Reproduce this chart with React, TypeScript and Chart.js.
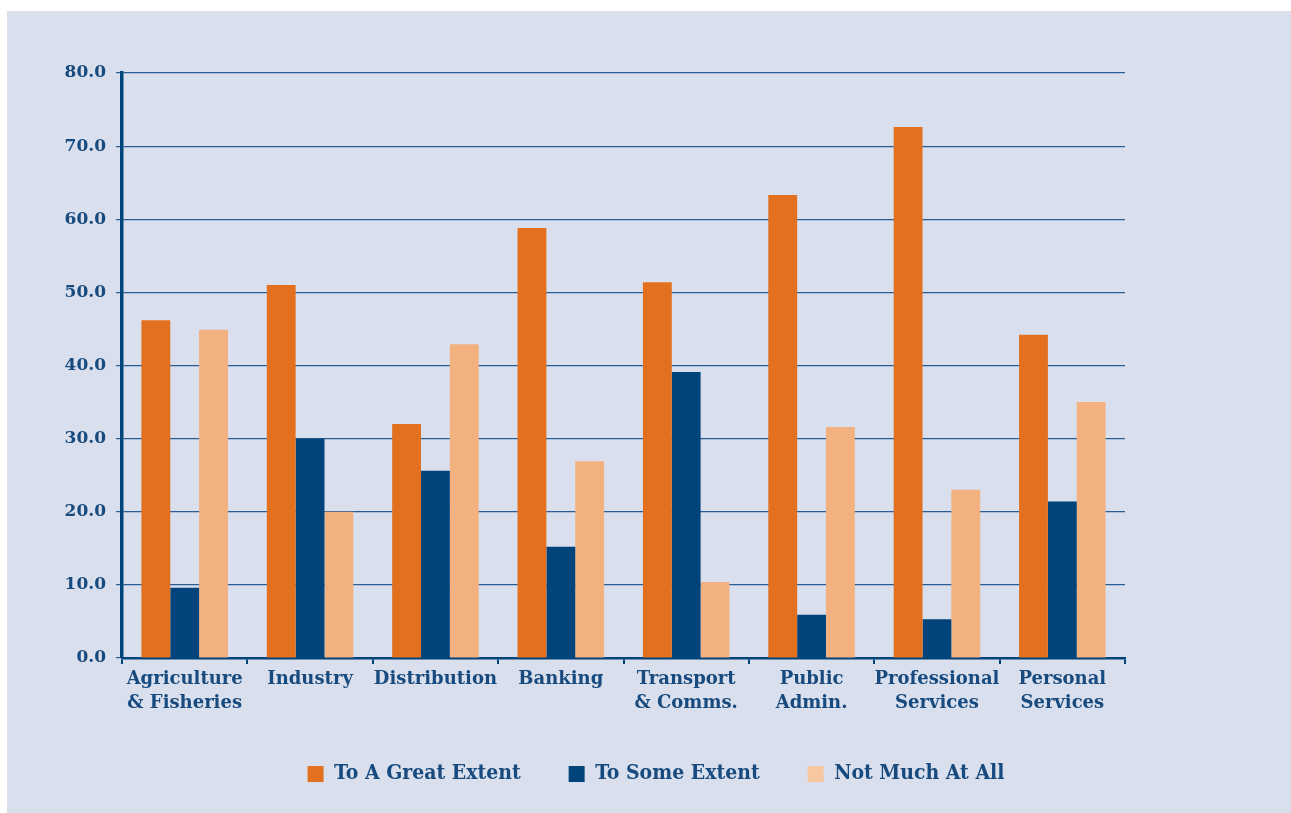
import React, { useEffect, useRef } from "react";
import { Chart, registerables } from "chart.js";

Chart.register(...registerables);

const categories: string[][] = [
  ["Agriculture", "& Fisheries"],
  ["Industry"],
  ["Distribution"],
  ["Banking"],
  ["Transport", "& Comms."],
  ["Public", "Admin."],
  ["Professional", "Services"],
  ["Personal", "Services"],
];
const seriesNames = ["To A Great Extent", "To Some Extent", "Not Much At All"];
const greatExtent = [46.2, 51.0, 32.0, 58.8, 51.4, 63.3, 72.6, 44.2];
const someExtent = [9.6, 30.0, 25.6, 15.2, 39.1, 5.9, 5.3, 21.4];
const notMuch = [44.9, 20.0, 42.9, 26.9, 10.4, 31.6, 23.0, 35.0];
const yMin = 0;
const yMax = 80;
const yStep = 10;

const ORANGE = "#e3701e";
const NAVY = "#00447b";
const PEACH = "#f2b17f";
const PEACH_LEGEND = "#f7c8a0";
const TEXT = "#174a7e";
const GRID = "#2a5d93";

export default function App() {
  const ref = useRef<HTMLCanvasElement | null>(null);
  useEffect(() => {
    if (!ref.current) return;
    const labelFont = { family: "'DejaVu Serif', serif", weight: "bold" as const, size: 18, lineHeight: 1.3 };
    const chart = new Chart(ref.current, {
      type: "bar",
      data: {
        labels: categories,
        datasets: [
          { label: seriesNames[0], data: greatExtent, backgroundColor: ORANGE, yAxisID: "y" },
          { label: seriesNames[1], data: someExtent, backgroundColor: NAVY, yAxisID: "y" },
          { label: seriesNames[2], data: notMuch, backgroundColor: PEACH, yAxisID: "y" },
        ],
      },
      options: {
        responsive: false,
        animation: false,
        layout: { padding: { top: 62, left: 14, right: 0, bottom: 18.5 } },
        datasets: { bar: { categoryPercentage: 0.69, barPercentage: 1.0 } },
        scales: {
          x: {
            grid: {
              display: true,
              drawOnChartArea: false,
              drawTicks: true,
              tickLength: 6,
              color: NAVY,
              lineWidth: 2,
              offset: true,
            },
            border: { display: true, color: NAVY, width: 2.5 },
            ticks: {
              color: TEXT,
              font: labelFont,
              padding: 4,
              maxRotation: 0,
              autoSkip: false,
            },
            afterFit: (s: any) => {
              s.height = 57.5;
            },
          },
          y: {
            position: "left",
            min: yMin,
            max: yMax,
            ticks: {
              stepSize: yStep,
              color: TEXT,
              font: { family: "'DejaVu Serif', serif", weight: "bold", size: 17 },
              padding: 10,
              callback: (v: any) => Number(v).toFixed(1),
            },
            grid: { color: GRID, lineWidth: 1.2, tickLength: 6 },
            border: { display: true, color: NAVY, width: 3.5 },
            afterFit: (s: any) => {
              s.width = 101;
            },
          },
          yR: {
            position: "right",
            display: true,
            min: yMin,
            max: yMax,
            grid: { display: false, drawOnChartArea: false },
            border: { display: false },
            ticks: { display: false },
            afterFit: (s: any) => {
              s.width = 166;
            },
          },
        },
        plugins: {
          tooltip: { enabled: false },
          legend: {
            position: "bottom",
            labels: {
              boxWidth: 16,
              boxHeight: 16,
              padding: 48,
              color: TEXT,
              font: { family: "'DejaVu Serif Condensed', 'DejaVu Serif', serif", weight: "bold", size: 21 },
              generateLabels: (c: any) => {
                const fills = [ORANGE, NAVY, PEACH_LEGEND];
                return c.data.datasets.map((d: any, i: number) => ({
                  text: d.label,
                  fillStyle: fills[i],
                  strokeStyle: fills[i],
                  lineWidth: 0,
                  fontColor: TEXT,
                  hidden: false,
                  datasetIndex: i,
                }));
              },
            },
          },
        },
      },
    });
    return () => chart.destroy();
  }, []);
  return (
    <div
      style={{
        position: "absolute",
        left: 7,
        top: 11,
        width: 1284,
        height: 802,
        background: "#d9dfec",
      }}
    >
      <canvas ref={ref} width={1284} height={802} />
    </div>
  );
}
